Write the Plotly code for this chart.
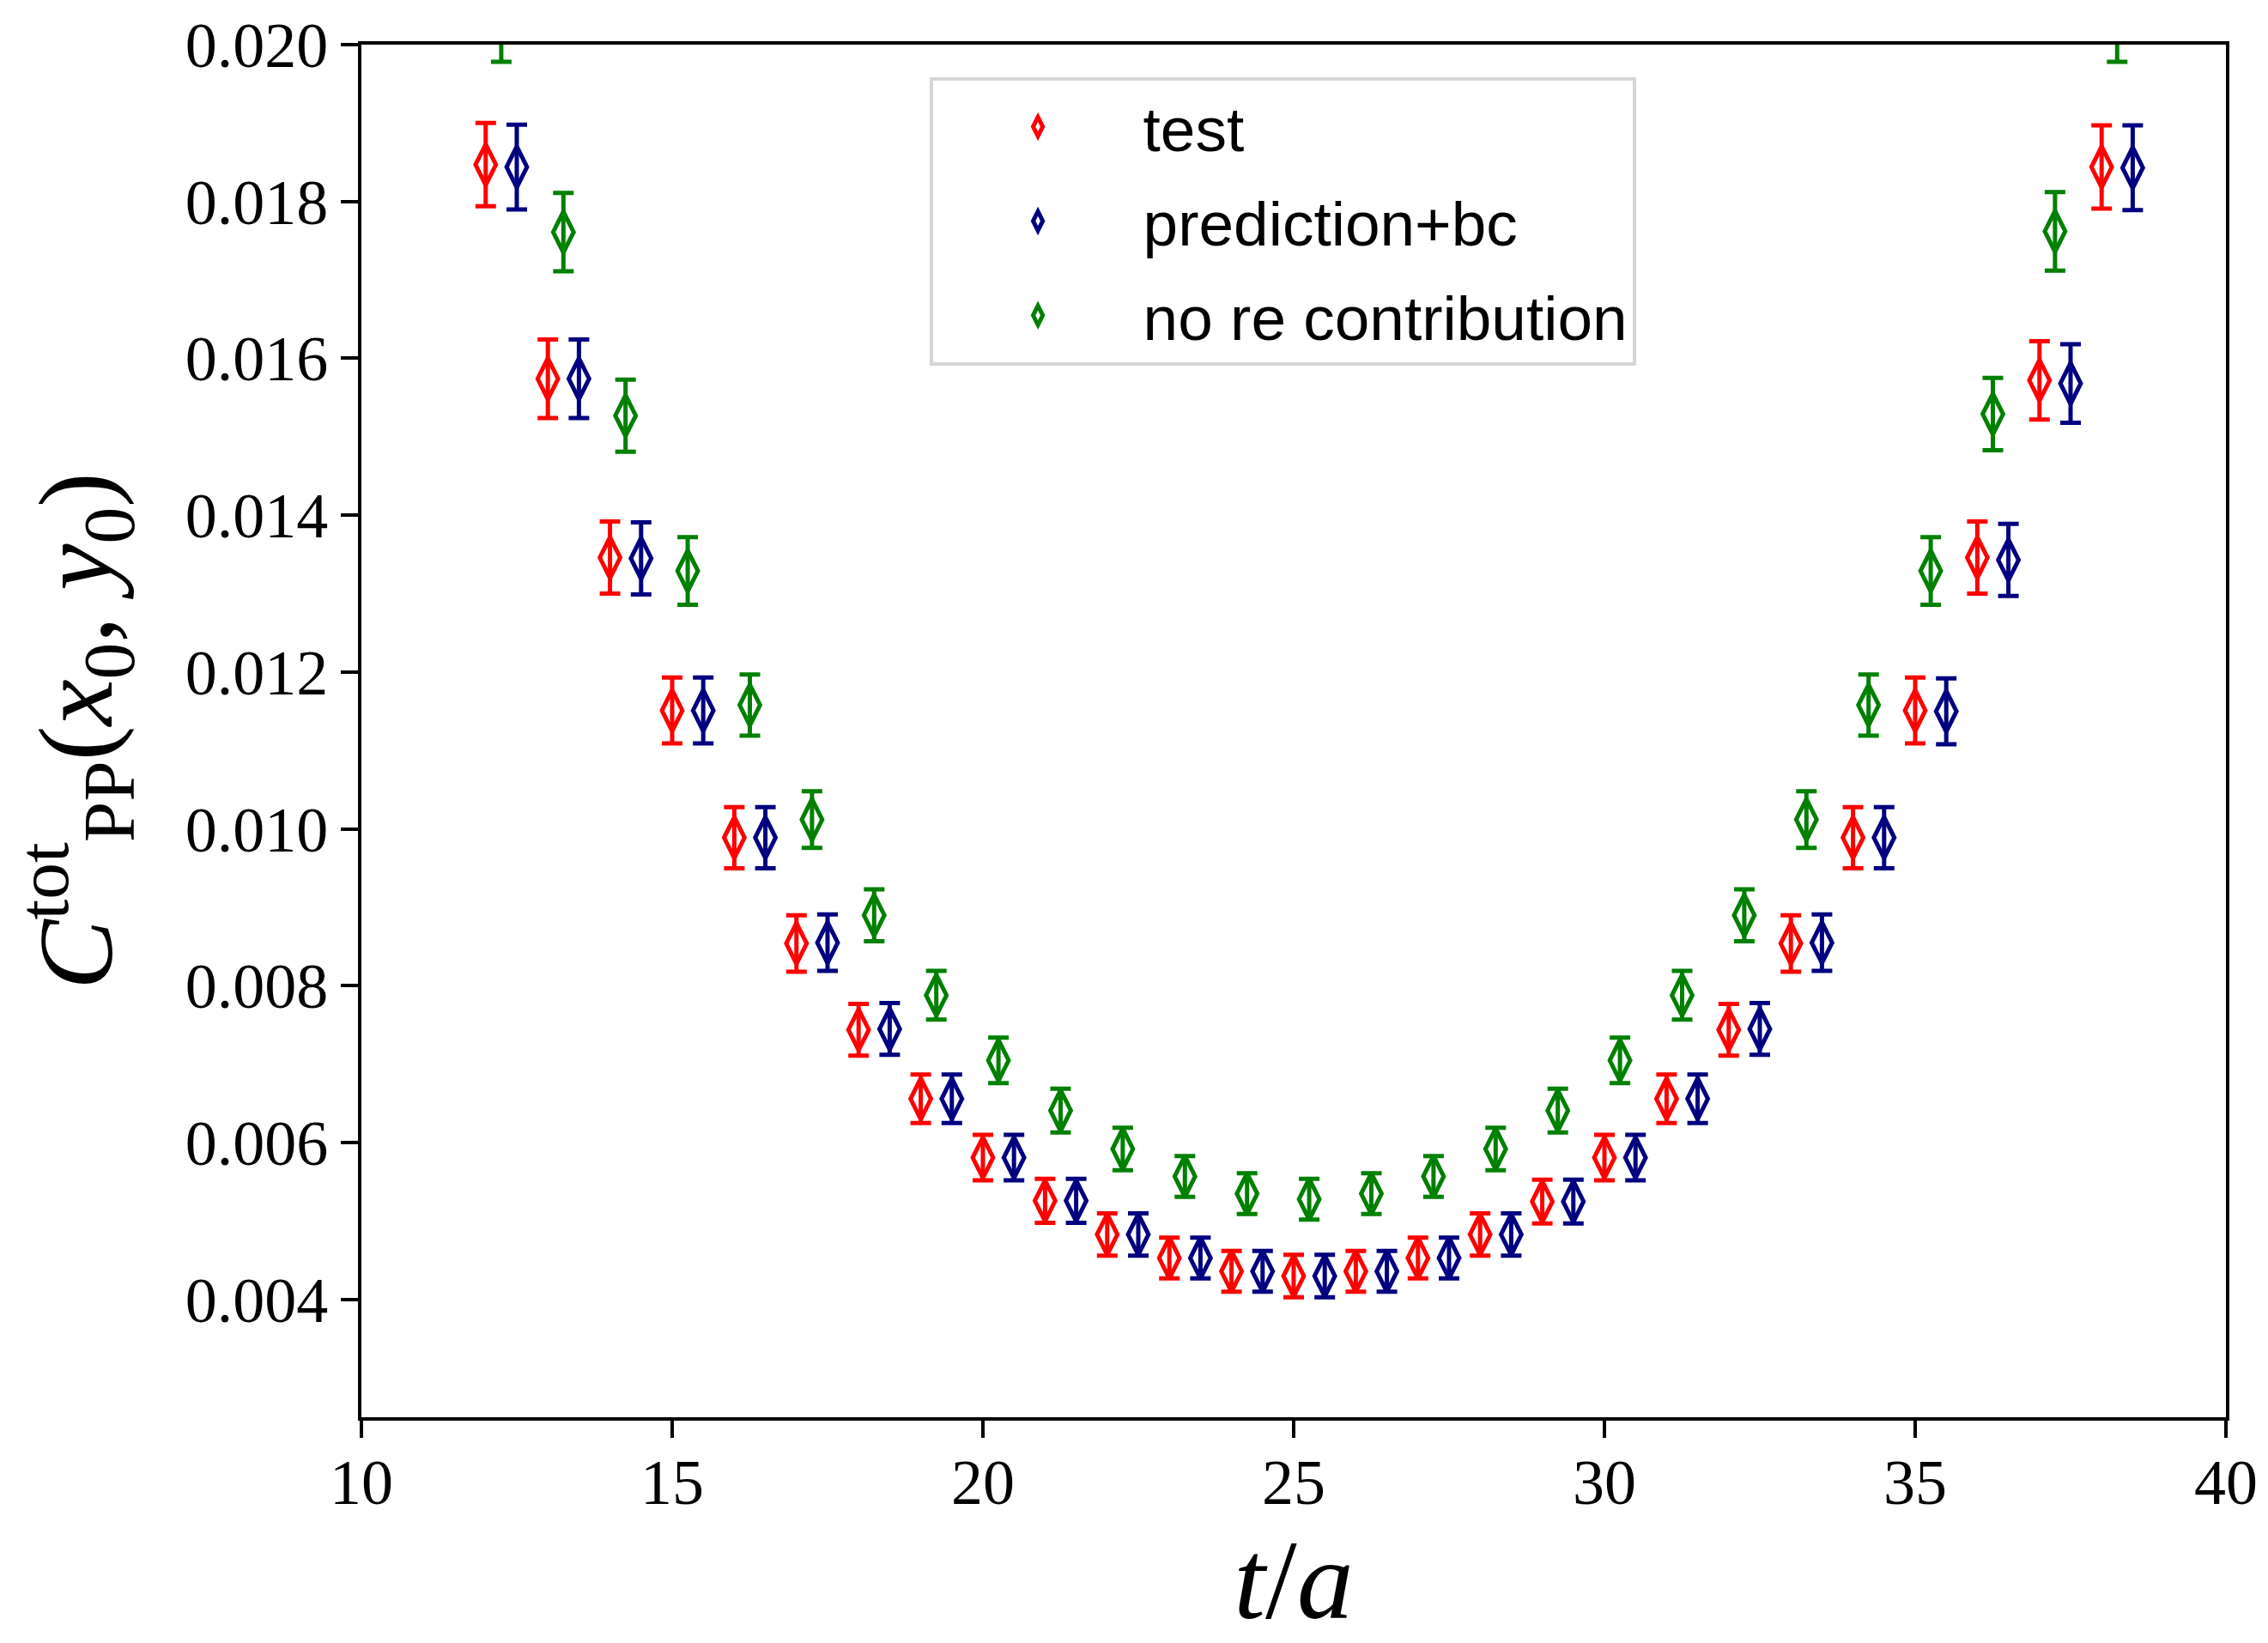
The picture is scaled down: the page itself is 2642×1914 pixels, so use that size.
import plotly.graph_objects as go

# ---------------- data ----------------
t_vals = list(range(12, 39))

test_vals = [0.01847, 0.01574, 0.01346, 0.01151, 0.00989, 0.00854, 0.00744, 0.00656, 0.00581,
             0.00526, 0.00483, 0.00453, 0.00436, 0.00430, 0.00436, 0.00453, 0.00483, 0.00525,
             0.00581, 0.00656, 0.00744, 0.00854, 0.00989, 0.01151, 0.01346, 0.01572, 0.01844]
test_err = [0.00053, 0.00050, 0.00046, 0.00042, 0.00039, 0.00036, 0.00033, 0.00031, 0.00029,
            0.00028, 0.00027, 0.00026, 0.00026, 0.00027, 0.00026, 0.00026, 0.00027, 0.00028,
            0.00029, 0.00031, 0.00033, 0.00036, 0.00039, 0.00042, 0.00046, 0.00050, 0.00053]

pred_vals = [0.01844, 0.01574, 0.01345, 0.01151, 0.00989, 0.00855, 0.00745, 0.00656, 0.00581,
             0.00526, 0.00483, 0.00453, 0.00436, 0.00430, 0.00436, 0.00453, 0.00483, 0.00525,
             0.00581, 0.00656, 0.00745, 0.00855, 0.00989, 0.01150, 0.01343, 0.01568, 0.01843]
pred_err = [0.00054, 0.00050, 0.00046, 0.00042, 0.00039, 0.00036, 0.00033, 0.00031, 0.00029,
            0.00028, 0.00027, 0.00026, 0.00026, 0.00027, 0.00026, 0.00026, 0.00027, 0.00028,
            0.00029, 0.00031, 0.00033, 0.00036, 0.00039, 0.00042, 0.00046, 0.00050, 0.00054]

nore_vals = [0.02030, 0.01761, 0.01527, 0.01329, 0.01158, 0.01012, 0.00890, 0.00788, 0.00705,
             0.00641, 0.00592, 0.00557, 0.00535, 0.00528, 0.00535, 0.00557, 0.00592, 0.00641,
             0.00705, 0.00788, 0.00890, 0.01012, 0.01158, 0.01329, 0.01529, 0.01762, 0.02030]
nore_err = [0.00052, 0.00050, 0.00046, 0.00043, 0.00039, 0.00036, 0.00033, 0.00031, 0.00029,
            0.00028, 0.00027, 0.00026, 0.00026, 0.00026, 0.00026, 0.00026, 0.00027, 0.00028,
            0.00029, 0.00031, 0.00033, 0.00036, 0.00039, 0.00043, 0.00046, 0.00050, 0.00052]

x_ticks = [10, 15, 20, 25, 30, 35, 40]
y_ticks = [0.004, 0.006, 0.008, 0.010, 0.012, 0.014, 0.016, 0.018, 0.020]

series = [
    ("test", test_vals, test_err, 0.0, "#ff0000"),
    ("prediction+bc", pred_vals, pred_err, 0.5, "#000080"),
    ("no re contribution", nore_vals, nore_err, 0.25, "#008000"),
]

# ---------------- figure ----------------
fig = go.Figure()
for i, (name, vals, errs, shift, col) in enumerate(series):
    fig.add_trace(go.Scatter(
        x=[t + shift for t in t_vals], y=vals, name=name, mode="markers",
        legendgroup=f"g{i}",
        marker=dict(symbol="diamond-tall-open", size=34, color=col,
                    line=dict(color=col, width=5)),
        error_y=dict(type="data", array=errs, visible=True, color=col,
                     thickness=5, width=12),
    ))

serif = "Liberation Serif"
fig.update_layout(
    width=2642, height=1914,
    margin=dict(l=421, r=49, t=45, b=263),
    paper_bgcolor="white", plot_bgcolor="white",
    showlegend=True,
    legend=dict(
        x=0.3046, y=0.9765, xanchor="left", yanchor="top",
        bgcolor="white", bordercolor="#d6d6d6", borderwidth=4,
        font=dict(family="Liberation Sans", size=73, color="black"),
        itemwidth=235, tracegroupgap=12,
    ),
    xaxis=dict(
        range=[10, 40], tickvals=x_ticks, ticktext=[str(v) for v in x_ticks],
        showgrid=False, zeroline=False,
        showline=True, linecolor="black", linewidth=4, mirror=True,
        ticks="outside", ticklen=20, tickwidth=4, tickcolor="black",
        ticklabelstandoff=-12, ticklabeloverflow="allow",
        tickfont=dict(family=serif, size=74, color="black"),
        title=dict(text="<i>t</i>/<i>a</i>", font=dict(family=serif, size=132, color="black"),
                   standoff=0),
    ),
    yaxis=dict(
        range=[0.0025, 0.020], tickvals=y_ticks, ticktext=[f"{v:.3f}" for v in y_ticks],
        showgrid=False, zeroline=False,
        showline=True, linecolor="black", linewidth=4, mirror=True,
        ticks="outside", ticklen=20, tickwidth=4, tickcolor="black",
        ticklabeloverflow="allow",
        tickfont=dict(family=serif, size=74, color="black"),
        title=dict(text="<i>C</i><sup>tot</sup><sub>PP</sub>(<i>x</i><sub>0</sub>, <i>y</i><sub>0</sub>)",
                   font=dict(family=serif, size=122, color="black"), standoff=45),
    ),
)

fig.write_html("out.html", config={"displayModeBar": False},
               post_script="document.body.style.margin='0px';document.body.style.overflow='hidden';")
